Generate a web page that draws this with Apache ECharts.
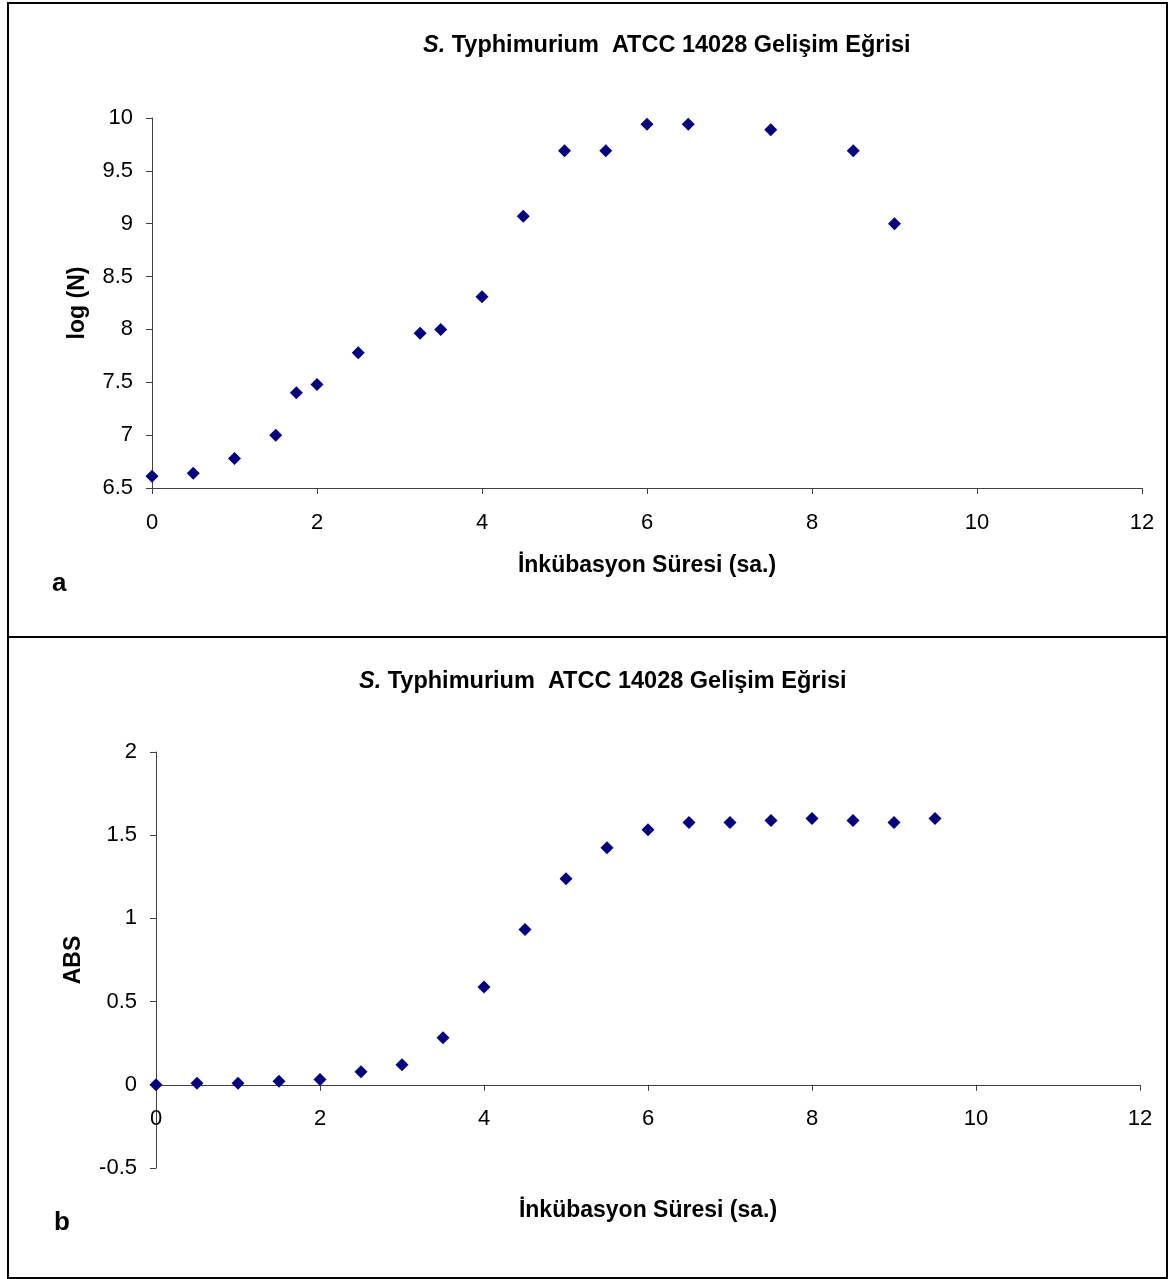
<!DOCTYPE html>
<html>
<head>
<meta charset="utf-8">
<script src="https://cdn.jsdelivr.net/npm/echarts@6/dist/echarts.min.js"></script>
<style>
html,body{margin:0;padding:0;background:#fff;}
#chart{width:1169px;height:1279px;}
</style>
</head>
<body>
<div id="chart"></div>
<script>
// Panel a: log(N) vs incubation time
const timeA = [0, 0.5, 1, 1.5, 1.75, 2, 2.5, 3.25, 3.5, 4, 4.5, 5, 5.5, 6, 6.5, 7.5, 8.5, 9];
const logN  = [6.61, 6.64, 6.78, 7.0, 7.4, 7.48, 7.78, 7.965, 8.0, 8.31, 9.07, 9.69, 9.69, 9.94, 9.94, 9.89, 9.69, 9.0];
// Panel b: ABS vs incubation time
const timeB = [0, 0.5, 1, 1.5, 2, 2.5, 3, 3.5, 4, 4.5, 5, 5.5, 6, 6.5, 7, 7.5, 8, 8.5, 9, 9.5];
const absV  = [0, 0.01, 0.01, 0.022, 0.032, 0.078, 0.12, 0.283, 0.588, 0.934, 1.238, 1.425, 1.533, 1.577, 1.577, 1.589, 1.6, 1.589, 1.577, 1.6];

const titleText = '{i|S.} Typhimurium  ATCC 14028 Gelişim Eğrisi';
const xName = 'İnkübasyon Süresi (sa.)';
const yNameA = 'log (N)';
const yNameB = 'ABS';

const FONT = '"Liberation Sans", Arial, sans-serif';
const markerColor = '#000080';

function pairs(xs, ys) { return xs.map((x, i) => [x, ys[i]]); }

const axisLineStyle = { color: '#404040', width: 1 };
const chart = echarts.init(document.getElementById('chart'));

const titleStyle = {
  fontFamily: FONT, fontSize: 23.5, fontWeight: 'bold', color: '#000',
  rich: { i: { fontFamily: FONT, fontSize: 23.5, fontWeight: 'bold', fontStyle: 'italic', color: '#000' } }
};

function xAxisCfg(gridIndex, gap, margin) {
  return {
    type: 'value', gridIndex, min: 0, max: 12, interval: 2,
    name: xName, nameLocation: 'middle', nameGap: gap,
    nameTextStyle: { fontFamily: FONT, fontSize: 23, fontWeight: 'bold', color: '#000' },
    axisLine: { show: true, onZero: true, lineStyle: axisLineStyle },
    axisTick: { show: true, length: 6, inside: false, lineStyle: axisLineStyle },
    axisLabel: { fontFamily: FONT, fontSize: 22, color: '#000', margin },
    splitLine: { show: false }
  };
}
function yAxisCfg(gridIndex, min, max, name, gap) {
  return {
    type: 'value', gridIndex, min, max, interval: 0.5,
    name, nameLocation: 'middle', nameGap: gap, nameRotate: 90,
    nameTextStyle: { fontFamily: FONT, fontSize: 23, fontWeight: 'bold', color: '#000' },
    axisLine: { show: true, onZero: false, lineStyle: axisLineStyle },
    axisTick: { show: true, length: 6, inside: false, lineStyle: axisLineStyle },
    axisLabel: { fontFamily: FONT, fontSize: 22, color: '#000', margin: 19 },
    splitLine: { show: false }
  };
}

chart.setOption({
  backgroundColor: '#fff',
  animation: false,
  title: [
    { text: titleText, left: 418, top: 29, textStyle: titleStyle },
    { text: titleText, left: 354, top: 665, textStyle: titleStyle }
  ],
  grid: [
    { left: 152, top: 118, width: 990, height: 370, outerBoundsMode: 'none', containLabel: false },
    { left: 156, top: 752, width: 984, height: 416, outerBoundsMode: 'none', containLabel: false }
  ],
  xAxis: [xAxisCfg(0, 66, 24), xAxisCfg(1, 31, -60)],
  yAxis: [yAxisCfg(0, 6.5, 10, yNameA, 63), yAxisCfg(1, -0.5, 2, yNameB, 71)],
  series: [
    { type: 'scatter', xAxisIndex: 0, yAxisIndex: 0, data: pairs(timeA, logN),
      symbol: 'diamond', symbolSize: [13, 13], itemStyle: { color: markerColor, opacity: 1 } },
    { type: 'scatter', xAxisIndex: 1, yAxisIndex: 1, data: pairs(timeB, absV),
      symbol: 'diamond', symbolSize: [13, 13], itemStyle: { color: markerColor, opacity: 1 } }
  ],
  graphic: [
    { type: 'rect', shape: { x: 8, y: 3, width: 1159, height: 1275 },
      style: { fill: 'none', stroke: '#000', lineWidth: 2 }, silent: true },
    { type: 'line', shape: { x1: 8, y1: 637, x2: 1167, y2: 637 },
      style: { stroke: '#000', lineWidth: 2 }, silent: true },
    { type: 'text', left: 52, top: 571,
      style: { text: 'a', font: 'bold 26px "Liberation Sans", Arial, sans-serif', fill: '#000' } },
    { type: 'text', left: 54, top: 1210,
      style: { text: 'b', font: 'bold 26px "Liberation Sans", Arial, sans-serif', fill: '#000' } }
  ]
});
</script>
</body>
</html>
